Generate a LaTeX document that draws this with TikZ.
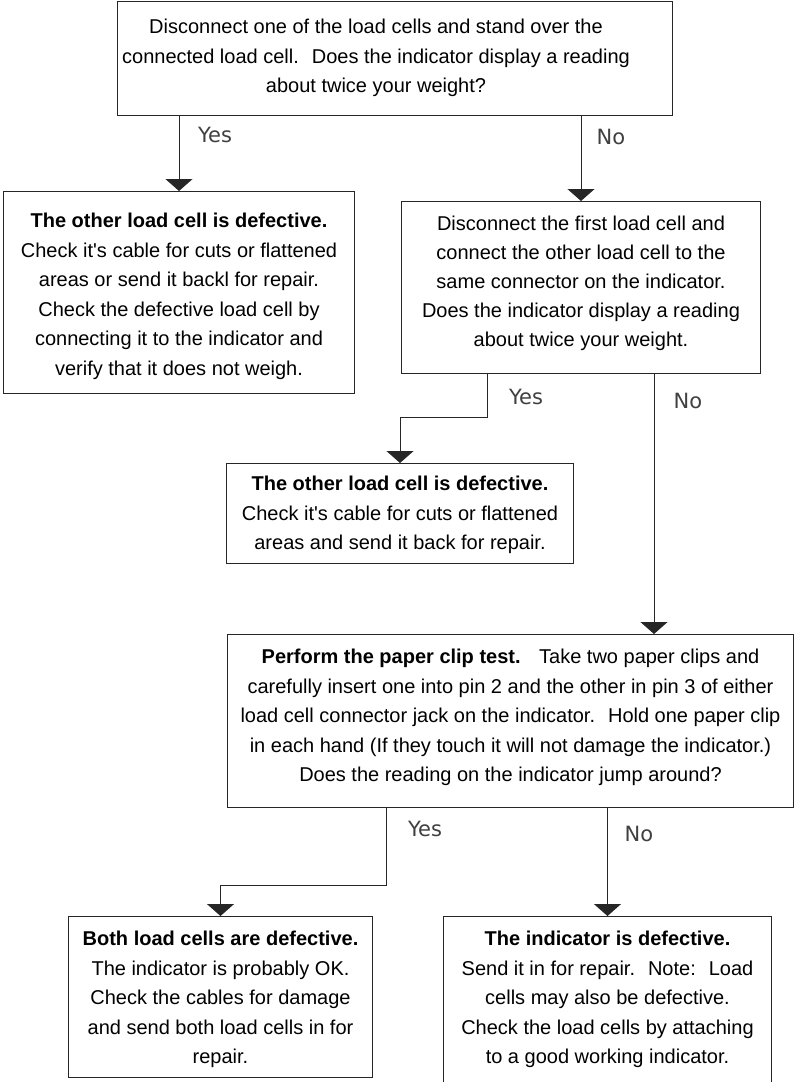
\documentclass[tikz,border=0pt]{standalone}
\usepackage{fontspec}
\setmainfont{Liberation Sans}[Ligatures=TeXOff]
\newfontfamily\labelfont{DejaVu Sans}
\usetikzlibrary{arrows.meta}
\begin{document}
\begin{tikzpicture}[x=1pt,y=-1pt,
  box/.style={draw=black!85, line width=1pt, rectangle, inner sep=0pt, anchor=north west},
  txt/.style={align=center, inner sep=0pt, anchor=north, font=\fontsize{20}{29.5}\selectfont},
  arr/.style={draw=black!85, line width=1pt, -{Triangle[width=27pt,length=12pt]}},
  lbl/.style={font=\labelfont\fontsize{21}{24}\selectfont, text=black!75, inner sep=0pt}]
\useasboundingbox (0,0) rectangle (795,1082);
\fill[white] (0,0) rectangle (795,1082);

% boxes
\node[box, minimum width=555pt, minimum height=114pt] (q1) at (117,1) {};
\node[box, minimum width=351pt, minimum height=202pt] (lc) at (3,191) {};
\node[box, minimum width=359pt, minimum height=172pt] (r1) at (401,201) {};
\node[box, minimum width=347pt, minimum height=100pt] (m) at (226,463) {};
\node[box, minimum width=566pt, minimum height=173pt] (p) at (227,634) {};
\node[box, minimum width=304pt, minimum height=161pt] (bl) at (68,916) {};
\node[box, minimum width=328pt, minimum height=180pt] (br) at (443,916) {};

% texts
\node[txt] (q1t) at ([xshift=-19pt,yshift=-18pt]q1.north) {Disconnect one of the load cells and stand over the\\connected load cell.~ Does the indicator display a reading\\about twice your weight?};
\node[txt] (lct) at ([yshift=-22pt]lc.north) {\textbf{The other load cell is defective.}\\Check it's cable for cuts or flattened\\areas or send it backl for repair.\\Check the defective load cell by\\connecting it to the indicator and\\verify that it does not weigh.};
\node[txt, font=\fontsize{20}{29}\selectfont] (r1t) at ([yshift=-15pt]r1.north) {Disconnect the first load cell and\\connect the other load cell to the\\same connector on the indicator.\\Does the indicator display a reading\\about twice your weight.};
\node[txt] (mt) at ([yshift=-13pt]m.north) {\textbf{The other load cell is defective.}\\Check it's cable for cuts or flattened\\areas and send it back for repair.};
\node[txt] (pt) at ([yshift=-15pt]p.north) {\textbf{Perform the paper clip test.}~~ Take two paper clips and\\carefully insert one into pin 2 and the other in pin 3 of either\\load cell connector jack on the indicator.~ Hold one paper clip\\in each hand (If they touch it will not damage the indicator.)\\Does the reading on the indicator jump around?};
\node[txt] (blt) at ([yshift=-15pt]bl.north) {\textbf{Both load cells are defective.}\\The indicator is probably OK.\\Check the cables for damage\\and send both load cells in for\\repair.};
\node[txt] (brt) at ([yshift=-15pt]br.north) {\textbf{The indicator is defective.}\\Send it in for repair.~ Note:~ Load\\cells may also be defective.\\Check the load cells by attaching\\to a good working indicator.};

% connectors
\coordinate (y2s) at (487,373);
\coordinate (n2s) at (654,373);
\coordinate (y3s) at (386,807);
\draw[arr] (lc.north |- q1.south) -- (lc.north);
\draw[arr] (r1.north |- q1.south) -- (r1.north);
\draw[arr] (y2s) -- ++(0,44) -| (m.north);
\draw[arr] (n2s) -- (n2s |- p.north);
\draw[arr] (y3s) -- ++(0,78) -| (bl.north);
\draw[arr] (br.north |- p.south) -- (br.north);

% labels
\node[lbl] (l1) at (215,135) {Yes};
\node[lbl] (l2) at (611,137) {No};
\node[lbl] (l3) at (526,397) {Yes};
\node[lbl] (l4) at (688,401) {No};
\node[lbl] (l5) at (425,829) {Yes};
\node[lbl] (l6) at (639,834) {No};
\end{tikzpicture}
\end{document}
